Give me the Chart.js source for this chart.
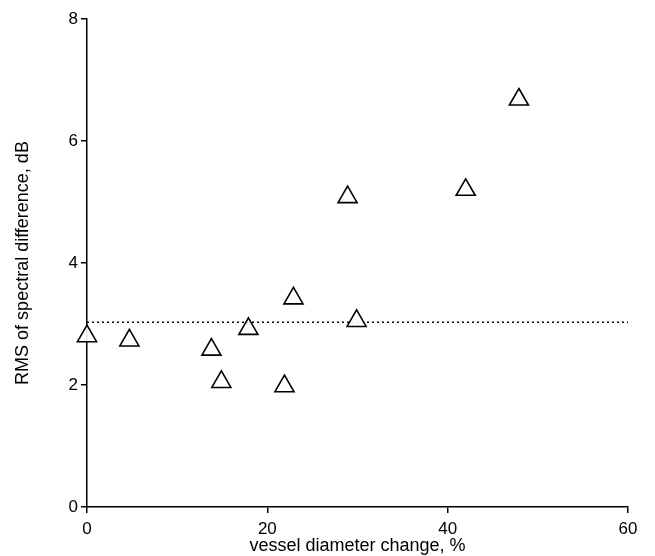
<!DOCTYPE html>
<html>
<head>
<meta charset="utf-8">
<script src="https://cdn.jsdelivr.net/npm/chart.js@4.4.1/dist/chart.umd.min.js"></script>
<style>
  html, body { margin: 0; padding: 0; background: #fff; }
  #wrap { width: 655px; height: 556px; }
</style>
</head>
<body>
<div id="wrap"><canvas id="scatter" width="655" height="556"></canvas></div>
<script>
// vessel diameter change (%) vs RMS of spectral difference (dB)
var diameterChange = [0, 4.7, 13.8, 14.9, 17.9, 21.9, 22.9, 28.9, 29.9, 42.0, 47.9];
var rmsDiff = [2.80, 2.73, 2.58, 2.05, 2.92, 1.98, 3.42, 5.08, 3.05, 5.20, 6.68];
var thresholdX = [0, 60];
var thresholdY = [3.03, 3.03];
var xTicks = [0, 20, 40, 60];
var yTicks = [0, 2, 4, 6, 8];

var fontFamily = '"Liberation Sans", Arial, Helvetica, sans-serif';

var points = diameterChange.map(function (x, i) { return { x: x, y: rmsDiff[i] }; });
var thresholdLine = thresholdX.map(function (x, i) { return { x: x, y: thresholdY[i] }; });

var ctx = document.getElementById('scatter').getContext('2d');
var chart = new Chart(ctx, {
    type: 'scatter',
    data: {
        datasets: [{
            type: 'line',
            data: thresholdLine,
            borderColor: '#000',
            borderWidth: 1.5,
            borderDash: [2, 3],
            pointRadius: 0,
            fill: false,
            order: 2
        }, {
            data: points,
            clip: false,
            pointStyle: 'triangle',
            pointRadius: 11,
            pointHoverRadius: 11,
            pointBorderWidth: 1.6,
            pointBorderColor: '#000',
            pointBackgroundColor: 'rgba(255,255,255,0.9)',
            order: 1
        }]
    },
    options: {
        responsive: false,
        animation: false,
        layout: { padding: { top: 19, right: 27, left: 0, bottom: 0 } },
        plugins: {
            legend: { display: false },
            tooltip: { enabled: false }
        },
        scales: {
            x: {
                type: 'linear',
                min: 0,
                max: 60,
                afterBuildTicks: function (s) { s.ticks = xTicks.map(function (v) { return { value: v }; }); },
                afterFit: function (s) { s.height = 49; },
                grid: { display: true, drawOnChartArea: false, drawTicks: true, tickLength: 6, color: '#000', lineWidth: 1.5 },
                border: { display: true, color: '#000', width: 1.5 },
                ticks: { color: '#000', font: { family: fontFamily, size: 17 }, padding: 6, maxRotation: 0 },
                title: { display: true, text: 'vessel diameter change, %', color: '#000', font: { family: fontFamily, size: 18 }, padding: { top: 0, bottom: -1 } }
            },
            y: {
                type: 'linear',
                min: 0,
                max: 8,
                afterBuildTicks: function (s) { s.ticks = yTicks.map(function (v) { return { value: v }; }); },
                afterFit: function (s) { s.width = 87; },
                grid: { display: true, drawOnChartArea: false, drawTicks: true, tickLength: 6, color: '#000', lineWidth: 1.5 },
                border: { display: true, color: '#000', width: 1.5 },
                ticks: { color: '#000', font: { family: fontFamily, size: 17 }, padding: 3 },
                title: { display: true, text: 'RMS of spectral difference, dB', color: '#000', font: { family: fontFamily, size: 18 }, padding: { top: 12, bottom: 0 } }
            }
        }
    }
});
</script>
</body>
</html>
